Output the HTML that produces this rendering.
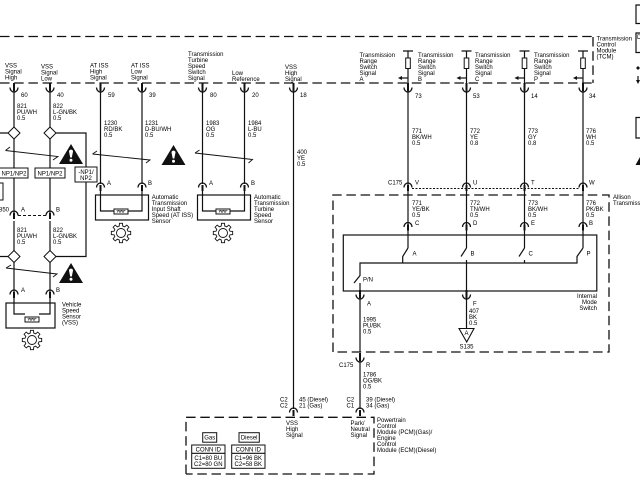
<!DOCTYPE html>
<html><head><meta charset="utf-8"><style>
html,body{margin:0;padding:0;background:#fff;width:640px;height:480px;overflow:hidden}
svg{display:block;filter:blur(.3px)}
text{font-family:"Liberation Sans",sans-serif;font-size:6px;fill:#000}
.w{fill:none;stroke:#111;stroke-width:1.2}
.d{fill:none;stroke:#111;stroke-width:1.3;stroke-dasharray:9.5 4.7}
.t{fill:none;stroke:#111;stroke-width:.9}
.b{fill:#fff;stroke:#111;stroke-width:1}
</style></head><body>
<svg width="640" height="480" viewBox="0 0 640 480" xmlns="http://www.w3.org/2000/svg">
<defs>
<g id="cup"><path d="M-4,-2.500A4,4.500 0 0 0 4,-2.500" fill="none" stroke="#111" stroke-width="1.3"/><path d="M0,-7V1" stroke="#111" stroke-width="2"/></g>
<g id="cap"><path d="M-4,2.500A4,4.500 0 0 1 4,2.500" fill="none" stroke="#111" stroke-width="1.3"/><path d="M0,0V6" stroke="#111" stroke-width="2"/></g>
<g id="gear"><polygon class="t" points="-1.74,-6.99 -1.53,-9.68 1.53,-9.68 1.74,-6.99 3.71,-6.17 5.76,-7.93 7.93,-5.76 6.17,-3.71 6.99,-1.74 9.68,-1.53 9.68,1.53 6.99,1.74 6.17,3.71 7.93,5.76 5.76,7.93 3.71,6.17 1.74,6.99 1.53,9.68 -1.53,9.68 -1.74,6.99 -3.71,6.17 -5.76,7.93 -7.93,5.76 -6.17,3.71 -6.99,1.74 -9.68,1.53 -9.68,-1.53 -6.99,-1.74 -6.17,-3.71 -7.93,-5.76 -5.76,-7.93 -3.71,-6.17"/><circle class="t" r="4.5"/></g>
<g id="warn"><polygon points="0,-10 12,10 -12,10" fill="#111"/><path d="M-2,-2.500C-2,-5 2,-5 2,-2.500L.8,3.500H-.8Z" fill="#fff"/><circle cy="6.300" r="1.500" fill="#fff"/></g>
<g id="res"><rect class="b" x="-7" y="-2.500" width="14" height="5"/><path d="M-4.500,-1H4.500M-4,1L-2.500,-1L-1,1L.5,-1L2,1L3.500,-1" fill="none" stroke="#111" stroke-width=".6"/></g>
<g id="fuse"><path class="w" d="M-5,0H5M0,0V37"/><rect class="b" x="-2.300" y="7" width="4.600" height="10.500"/><path class="w" d="M0,27H-7"/><polygon points="-10,27 -6,25 -6,29" fill="#111"/></g>
<g id="dia"><polygon points="0,-6 6,0 0,6 -6,0" fill="#fff" stroke="#111" stroke-width="1"/></g>
</defs>

<!-- TCM border -->
<path class="d" d="M0,36.500H593"/>
<path class="d" d="M593,37V83"/>
<path class="d" d="M0,83H593"/>

<!-- Far right fragments -->
<path class="w" d="M640,5H636V23.500H640M640,33H636V52.500H640M640,117.500H636V138H640"/>
<polygon points="636,68 638,66 640,68 638,70" fill="#111"/>
<path class="w" d="M638,76V82"/><polygon points="636,80 640,80 638,84" fill="#111"/>
<polygon points="640,157 640,165 635.500,165" fill="#111"/>
<text x="637" y="39">D</text>

<!-- Left VSS wires -->
<path d="M14,88V214M14,221V293M14,296V314H25" class="w" stroke-width="1.5"/>
<path d="M50,88V214M50,221V293M50,296V314H39" class="w"/>
<path class="w" d="M14,83V88M50,83V88"/>
<use href="#cup" x="14" y="90"/><use href="#cup" x="50" y="90"/>
<use href="#dia" x="14" y="133"/><use href="#dia" x="50" y="133"/>
<path class="w" d="M0,133H8M56,133H86V256.500H56M0,256.500H8"/>
<use href="#dia" x="14" y="256.500"/><use href="#dia" x="50" y="256.500"/>
<path class="t" d="M5.500,150.500L10,147M5.500,150.500L58,156.500L53,160"/>
<path class="t" d="M6,268L11,265M6,268L57,274L53,277"/>
<use href="#warn" x="71" y="154"/><use href="#warn" x="71" y="273"/>
<rect class="b" x="-2" y="168" width="30" height="10"/>
<rect class="b" x="35" y="168" width="30" height="10"/>
<rect class="b" x="75" y="167" width="22" height="15"/>
<rect class="b" x="-3" y="183" width="6" height="17"/>
<text x="14" y="175.500" text-anchor="middle">NP1/NP2</text>
<text x="50" y="175.500" text-anchor="middle">NP1/NP2</text>
<text x="86" y="174" text-anchor="middle">-NP1/<tspan x="86" dy="6">NP2</tspan></text>
<use href="#cap" x="14" y="213"/><use href="#cap" x="50" y="213"/>
<path d="M18,215.500H46" stroke="#111" stroke-width="1" stroke-dasharray="3 2"/>
<text x="-1" y="211.500">850</text><text x="21" y="211.500">A</text><text x="56" y="211.500">B</text>
<use href="#cap" x="14" y="292"/><use href="#cap" x="50" y="292"/>
<text x="21" y="292">A</text><text x="56" y="292">B</text>
<rect class="w" x="6" y="303" width="49" height="25"/>
<use href="#res" x="32" y="319.500"/>
<use href="#gear" x="32" y="340"/>
<text x="62" y="306.500">Vehicle<tspan x="62" dy="6">Speed</tspan><tspan x="62" dy="6">Sensor</tspan><tspan x="62" dy="6">(VSS)</tspan></text>

<!-- AT ISS -->
<path class="w" d="M100.500,83V184M142,83V184"/>
<use href="#cup" x="100.500" y="90"/><use href="#cup" x="142" y="90"/>
<path class="t" d="M92.500,154L97,151M92.500,154L150,160L146,163"/>
<use href="#warn" x="173.500" y="155"/>
<use href="#cap" x="100.500" y="185"/><use href="#cap" x="142" y="185"/>
<text x="107" y="185">A</text><text x="148" y="185">B</text>
<rect class="w" x="95.500" y="195" width="53" height="25"/>
<path class="w" d="M100.500,190V211H142V190"/>
<use href="#res" x="121" y="211.500"/>
<use href="#gear" x="121" y="233"/>
<text x="151.700" y="199">Automatic<tspan x="151.700" dy="6">Transmission</tspan><tspan x="151.700" dy="6">Input Shaft</tspan><tspan x="151.700" dy="6">Speed (AT ISS)</tspan><tspan x="151.700" dy="6">Sensor</tspan></text>

<!-- Turbine -->
<path class="w" d="M202.500,83V184" stroke-width="1.6"/>
<path class="w" d="M244.500,83V184"/>
<use href="#cup" x="202.500" y="90"/><use href="#cup" x="244.500" y="90"/>
<path class="t" d="M195,153L199.500,150M195,153L252.500,159.500L248.500,163"/>
<use href="#cap" x="202.500" y="185"/><use href="#cap" x="244.500" y="185"/>
<text x="209" y="185">A</text><text x="251" y="185">B</text>
<rect class="w" x="197.500" y="195" width="53" height="25"/>
<path class="w" d="M202.500,190V211H244.500V190"/>
<use href="#res" x="223" y="211.500"/>
<use href="#gear" x="223" y="233"/>
<text x="254" y="199">Automatic<tspan x="254" dy="6">Transmission</tspan><tspan x="254" dy="6">Turbine</tspan><tspan x="254" dy="6">Speed</tspan><tspan x="254" dy="6">Sensor</tspan></text>

<!-- VSS High long wire -->
<path class="w" d="M293.500,83V409"/>
<use href="#cup" x="293.500" y="90"/>
<use href="#cap" x="293.500" y="410"/>

<!-- Range switch wires -->
<use href="#fuse" x="408" y="51"/><use href="#fuse" x="466.500" y="51"/><use href="#fuse" x="524.500" y="51"/><use href="#fuse" x="583" y="51"/>
<path class="w" d="M408,83V248M466.500,83V248M524.500,83V248M583,83V248"/>
<use href="#cup" x="408" y="90"/><use href="#cup" x="466.500" y="90"/><use href="#cup" x="524.500" y="90"/><use href="#cup" x="583" y="90"/>
<use href="#cap" x="408" y="185"/><use href="#cap" x="466.500" y="185"/><use href="#cap" x="524.500" y="185"/><use href="#cap" x="583" y="185"/>
<path d="M412,188.500H579" stroke="#111" stroke-width="1" stroke-dasharray="2 1.500"/>
<path class="d" d="M333,352V195H609V352H333"/>
<use href="#cap" x="408" y="224.500"/><use href="#cap" x="466.500" y="224.500"/><use href="#cap" x="524.500" y="224.500"/><use href="#cap" x="583" y="224.500"/>
<rect class="w" x="343.300" y="235" width="253.500" height="56" stroke-width="1.300"/>
<path class="w" d="M408,248L402.700,256.500V263M466.500,248L461,256.500M524.500,248L519,256.500M583,248L577,256.500V263H360V275.500L354,283M360,283V291M466.500,260V291M524.500,260V263"/>
<use href="#cup" x="360" y="297"/><use href="#cup" x="466.500" y="297"/>
<path class="w" d="M360,298V352M466.500,298V328"/>
<polygon points="459,328.500 474,328.500 466.700,342" fill="#fff" stroke="#111" stroke-width="1.100"/>
<text x="466.500" y="335" text-anchor="middle">A</text>
<text x="466.500" y="348.500" text-anchor="middle">S135</text>
<use href="#cup" x="360" y="360"/>
<path class="w" d="M360,360V409"/>
<use href="#cap" x="360" y="410"/>

<!-- PCM dashed box -->
<path class="d" d="M186,474V417.300H374V474H186"/>
<rect class="b" x="202.700" y="432.700" width="14" height="9.500"/>
<rect class="b" x="239" y="432.700" width="20.300" height="9.500"/>
<rect class="b" x="191.700" y="445" width="33.300" height="23.300"/>
<rect class="b" x="231.700" y="445" width="33.300" height="23.300"/>
<path class="w" d="M191.700,453.300H225M231.700,453.300H265" stroke-width="1"/>
<text x="209.700" y="439.500" text-anchor="middle">Gas</text>
<text x="249.200" y="439.500" text-anchor="middle">Diesel</text>
<text x="208.300" y="451.500" text-anchor="middle">CONN ID</text>
<text x="248.300" y="451.500" text-anchor="middle">CONN ID</text>
<text x="208.300" y="460" text-anchor="middle">C1=80 BU<tspan x="208.300" dy="6">C2=80 GN</tspan></text>
<text x="248.300" y="460" text-anchor="middle">C1=96 BK<tspan x="248.300" dy="6">C2=58 BK</tspan></text>

<!-- Labels: top signal -->
<text x="5" y="67.500">VSS<tspan x="5" dy="6">Signal</tspan><tspan x="5" dy="6">High</tspan></text>
<text x="41" y="68.500">VSS<tspan x="41" dy="6">Signal</tspan><tspan x="41" dy="6">Low</tspan></text>
<text x="90" y="67.500">AT ISS<tspan x="90" dy="6">High</tspan><tspan x="90" dy="6">Signal</tspan></text>
<text x="131" y="67.500">AT ISS<tspan x="131" dy="6">Low</tspan><tspan x="131" dy="6">Signal</tspan></text>
<text x="188" y="56">Transmission<tspan x="188" dy="6">Turbine</tspan><tspan x="188" dy="6">Speed</tspan><tspan x="188" dy="6">Switch</tspan><tspan x="188" dy="6">Signal</tspan></text>
<text x="232" y="75">Low<tspan x="232" dy="6">Reference</tspan></text>
<text x="285" y="69">VSS<tspan x="285" dy="6">High</tspan><tspan x="285" dy="6">Signal</tspan></text>
<text x="359.500" y="57">Transmission<tspan x="359.500" dy="6">Range</tspan><tspan x="359.500" dy="6">Switch</tspan><tspan x="359.500" dy="6">Signal</tspan><tspan x="359.500" dy="6">A</tspan></text>
<text x="418" y="57">Transmission<tspan x="418" dy="6">Range</tspan><tspan x="418" dy="6">Switch</tspan><tspan x="418" dy="6">Signal</tspan><tspan x="418" dy="6">B</tspan></text>
<text x="475" y="57">Transmission<tspan x="475" dy="6">Range</tspan><tspan x="475" dy="6">Switch</tspan><tspan x="475" dy="6">Signal</tspan><tspan x="475" dy="6">C</tspan></text>
<text x="534" y="57">Transmission<tspan x="534" dy="6">Range</tspan><tspan x="534" dy="6">Switch</tspan><tspan x="534" dy="6">Signal</tspan><tspan x="534" dy="6">P</tspan></text>
<text x="596.500" y="40.500">Transmission<tspan x="596.500" dy="6">Control</tspan><tspan x="596.500" dy="6">Module</tspan><tspan x="596.500" dy="6">(TCM)</tspan></text>

<!-- Pin numbers -->
<text x="21" y="97">60</text><text x="57" y="97">40</text><text x="108" y="97">59</text><text x="149" y="97">39</text><text x="210" y="97">80</text><text x="252" y="97">20</text><text x="300" y="97">18</text>
<text x="415" y="98">73</text><text x="473" y="98">53</text><text x="531" y="98">14</text><text x="589" y="98">34</text>

<!-- Wire labels -->
<text x="17" y="108">821<tspan x="17" dy="6">PU/WH</tspan><tspan x="17" dy="6">0.5</tspan></text>
<text x="53" y="108">822<tspan x="53" dy="6">L-GN/BK</tspan><tspan x="53" dy="6">0.5</tspan></text>
<text x="104" y="125">1230<tspan x="104" dy="6">RD/BK</tspan><tspan x="104" dy="6">0.5</tspan></text>
<text x="145" y="125">1231<tspan x="145" dy="6">D-BU/WH</tspan><tspan x="145" dy="6">0.5</tspan></text>
<text x="206" y="125">1983<tspan x="206" dy="6">OG</tspan><tspan x="206" dy="6">0.5</tspan></text>
<text x="248" y="125">1984<tspan x="248" dy="6">L-BU</tspan><tspan x="248" dy="6">0.5</tspan></text>
<text x="297" y="154">400<tspan x="297" dy="6">YE</tspan><tspan x="297" dy="6">0.5</tspan></text>
<text x="17" y="232">821<tspan x="17" dy="6">PU/WH</tspan><tspan x="17" dy="6">0.5</tspan></text>
<text x="53" y="232">822<tspan x="53" dy="6">L-GN/BK</tspan><tspan x="53" dy="6">0.5</tspan></text>
<text x="412" y="133">771<tspan x="412" dy="6">BK/WH</tspan><tspan x="412" dy="6">0.5</tspan></text>
<text x="470" y="133">772<tspan x="470" dy="6">YE</tspan><tspan x="470" dy="6">0.8</tspan></text>
<text x="528" y="133">773<tspan x="528" dy="6">GY</tspan><tspan x="528" dy="6">0.8</tspan></text>
<text x="586" y="133">776<tspan x="586" dy="6">WH</tspan><tspan x="586" dy="6">0.5</tspan></text>
<text x="412" y="205">771<tspan x="412" dy="6">YE/BK</tspan><tspan x="412" dy="6">0.5</tspan></text>
<text x="470" y="205">772<tspan x="470" dy="6">TN/WH</tspan><tspan x="470" dy="6">0.5</tspan></text>
<text x="528" y="205">773<tspan x="528" dy="6">BK/WH</tspan><tspan x="528" dy="6">0.5</tspan></text>
<text x="586" y="205">776<tspan x="586" dy="6">PK/BK</tspan><tspan x="586" dy="6">0.5</tspan></text>
<text x="363" y="321.500">1995<tspan x="363" dy="6">PU/BK</tspan><tspan x="363" dy="6">0.5</tspan></text>
<text x="469" y="313">407<tspan x="469" dy="6">BK</tspan><tspan x="469" dy="6">0.5</tspan></text>
<text x="363" y="376.500">1786<tspan x="363" dy="6">OG/BK</tspan><tspan x="363" dy="6">0.5</tspan></text>

<!-- Connector letters -->
<text x="388" y="184.500">C175</text>
<text x="415" y="184.500">V</text><text x="473" y="184.500">U</text><text x="531" y="184.500">T</text><text x="589" y="184.500">W</text>
<text x="415" y="225">C</text><text x="473" y="225">D</text><text x="531" y="225">E</text><text x="589" y="225">B</text>
<text x="412.500" y="255.500">A</text><text x="470.500" y="255.500">B</text><text x="528.500" y="255.500">C</text><text x="586.500" y="255.500">P</text>
<text x="363" y="281.500">P/N</text>
<text x="367" y="305.500">A</text><text x="473" y="305.500">F</text>
<text x="339" y="367">C175</text><text x="366" y="367">R</text>
<text x="613" y="199">Allison<tspan x="613" dy="6">Transmission</tspan></text>
<text x="597" y="298" text-anchor="end">Internal<tspan x="597" dy="6">Mode</tspan><tspan x="597" dy="6">Switch</tspan></text>
<text x="280" y="401.500">C2<tspan x="280" dy="6">C2</tspan></text>
<text x="299" y="401.500">45 (Diesel)<tspan x="299" dy="6">21 (Gas)</tspan></text>
<text x="346.500" y="401.500">C2<tspan x="346.500" dy="6">C1</tspan></text>
<text x="366" y="401.500">39 (Diesel)<tspan x="366" dy="6">34 (Gas)</tspan></text>
<text x="286" y="425">VSS<tspan x="286" dy="6">High</tspan><tspan x="286" dy="6">Signal</tspan></text>
<text x="350.500" y="425">Park/<tspan x="350.500" dy="6">Neutral</tspan><tspan x="350.500" dy="6">Signal</tspan></text>
<text x="377" y="422">Powertrain<tspan x="377" dy="6">Control</tspan><tspan x="377" dy="6">Module (PCM)(Gas)/</tspan><tspan x="377" dy="6">Engine</tspan><tspan x="377" dy="6">Control</tspan><tspan x="377" dy="6">Module (ECM)(Diesel)</tspan></text>
</svg>
</body></html>
